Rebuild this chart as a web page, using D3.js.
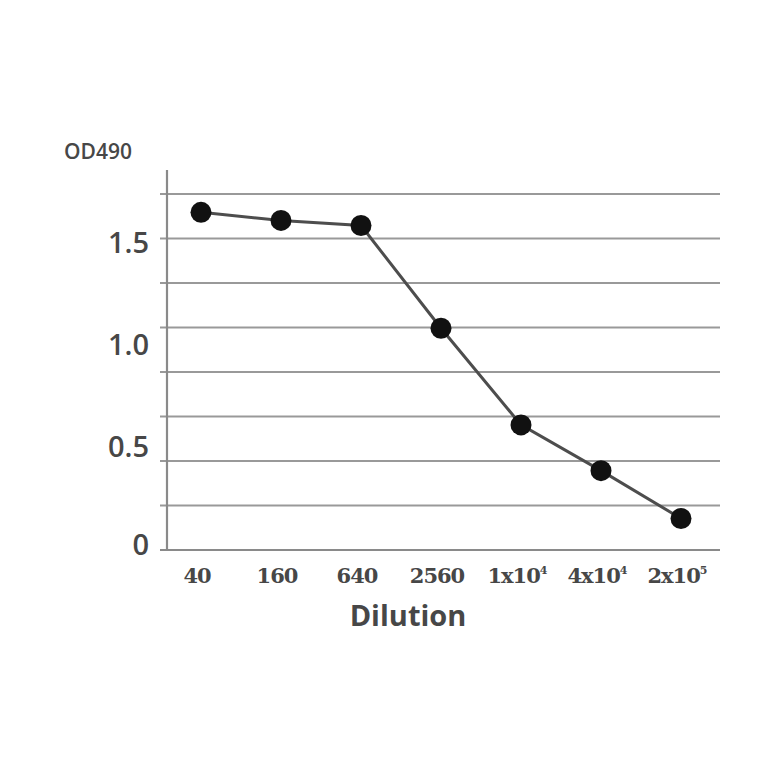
<!DOCTYPE html>
<html>
<head>
<meta charset="utf-8">
<script src="https://cdn.jsdelivr.net/npm/d3@7"></script>
<style>
  body { margin: 0; background: #fff; }
  svg text { fill: #474747; }
</style>
</head>
<body>
<div id="chart"></div>
<script>
// dilution categories and OD490 readings
const dilutions = ["40", "160", "640", "2560", "1x10^4", "4x10^4", "2x10^5"];
const od_values = [1.66, 1.62, 1.595, 1.09, 0.615, 0.39, 0.155];
const y_tick_values = [0, 0.5, 1.0, 1.5];
const y_tick_labels = ["0", "0.5", "1.0", "1.5"];
const grid_values = [0.21875, 0.4375, 0.65625, 0.875, 1.09375, 1.3125, 1.53125, 1.75];

const width = 764, height = 764;
const plot_left = 167, plot_right = 720, plot_top = 194, plot_bottom = 550;

let svg = d3.select("#chart")
    .append("svg")
    .attr("width", width)
    .attr("height", height);

let xScale = d3.scaleBand()
    .domain(dilutions)
    .range([161, 721]);

let yScale = d3.scaleLinear()
    .domain([0, 1.75])
    .range([plot_bottom, plot_top]);

// horizontal grid lines
svg.selectAll(".grid")
    .data(grid_values)
    .enter()
    .append("line")
    .attr("class", "grid")
    .attr("x1", plot_left - 7)
    .attr("x2", plot_right)
    .attr("y1", d => yScale(d))
    .attr("y2", d => yScale(d))
    .attr("stroke", "#999")
    .attr("stroke-width", 2.2);

// axes lines
svg.append("line")
    .attr("x1", plot_left).attr("x2", plot_left)
    .attr("y1", 170).attr("y2", plot_bottom)
    .attr("stroke", "#8a8a8a")
    .attr("stroke-width", 2.2);

svg.append("line")
    .attr("x1", plot_left - 7).attr("x2", plot_right)
    .attr("y1", plot_bottom).attr("y2", plot_bottom)
    .attr("stroke", "#8a8a8a")
    .attr("stroke-width", 2.2);

// y tick labels
svg.selectAll(".ylab")
    .data(y_tick_values)
    .enter()
    .append("text")
    .attr("class", "ylab")
    .attr("x", 149)
    .attr("y", (d, i) => yScale(d) - (i === 0 ? 7 : 3))
    .attr("text-anchor", "end")
    .attr("dominant-baseline", "central")
    .attr("font-family", "'Open Sans', sans-serif")
    .attr("font-weight", "600")
    .attr("font-size", "29px")
    .text((d, i) => y_tick_labels[i]);

svg.append("text")
    .attr("x", 64)
    .attr("y", 159)
    .attr("font-family", "'Open Sans', sans-serif")
    .attr("font-weight", "600")
    .attr("font-size", "21px")
    .text("OD490");

// x tick labels, exponents as superscripts
let xlab = svg.selectAll(".xlab")
    .data(dilutions)
    .enter()
    .append("text")
    .attr("class", "xlab")
    .attr("x", d => xScale(d) + xScale.bandwidth() / 2 - 4)
    .attr("y", 583)
    .attr("text-anchor", "middle")
    .attr("font-family", "'DejaVu Serif', serif")
    .attr("font-weight", "bold")
    .attr("font-size", "21px")
    .attr("letter-spacing", "-1px");

xlab.each(function(d) {
    let parts = d.split("^");
    let t = d3.select(this);
    t.append("tspan").text(parts[0]);
    if (parts.length > 1) {
        t.append("tspan")
            .attr("dy", -9)
            .attr("font-size", "11px")
            .text(parts[1]);
    }
});

svg.append("text")
    .attr("x", 408)
    .attr("y", 626)
    .attr("text-anchor", "middle")
    .attr("font-family", "'Open Sans', sans-serif")
    .attr("font-weight", "bold")
    .attr("font-size", "29px")
    .text("Dilution");

// data line and markers
let line = d3.line()
    .x((d, i) => xScale(dilutions[i]) + xScale.bandwidth() / 2)
    .y(d => yScale(d));

svg.append("path")
    .datum(od_values)
    .attr("d", line)
    .attr("fill", "none")
    .attr("stroke", "#4d4d4d")
    .attr("stroke-width", 3);

svg.selectAll(".dot")
    .data(od_values)
    .enter()
    .append("circle")
    .attr("class", "dot")
    .attr("cx", (d, i) => xScale(dilutions[i]) + xScale.bandwidth() / 2)
    .attr("cy", d => yScale(d))
    .attr("r", 10.5)
    .attr("fill", "#111");
</script>
</body>
</html>
